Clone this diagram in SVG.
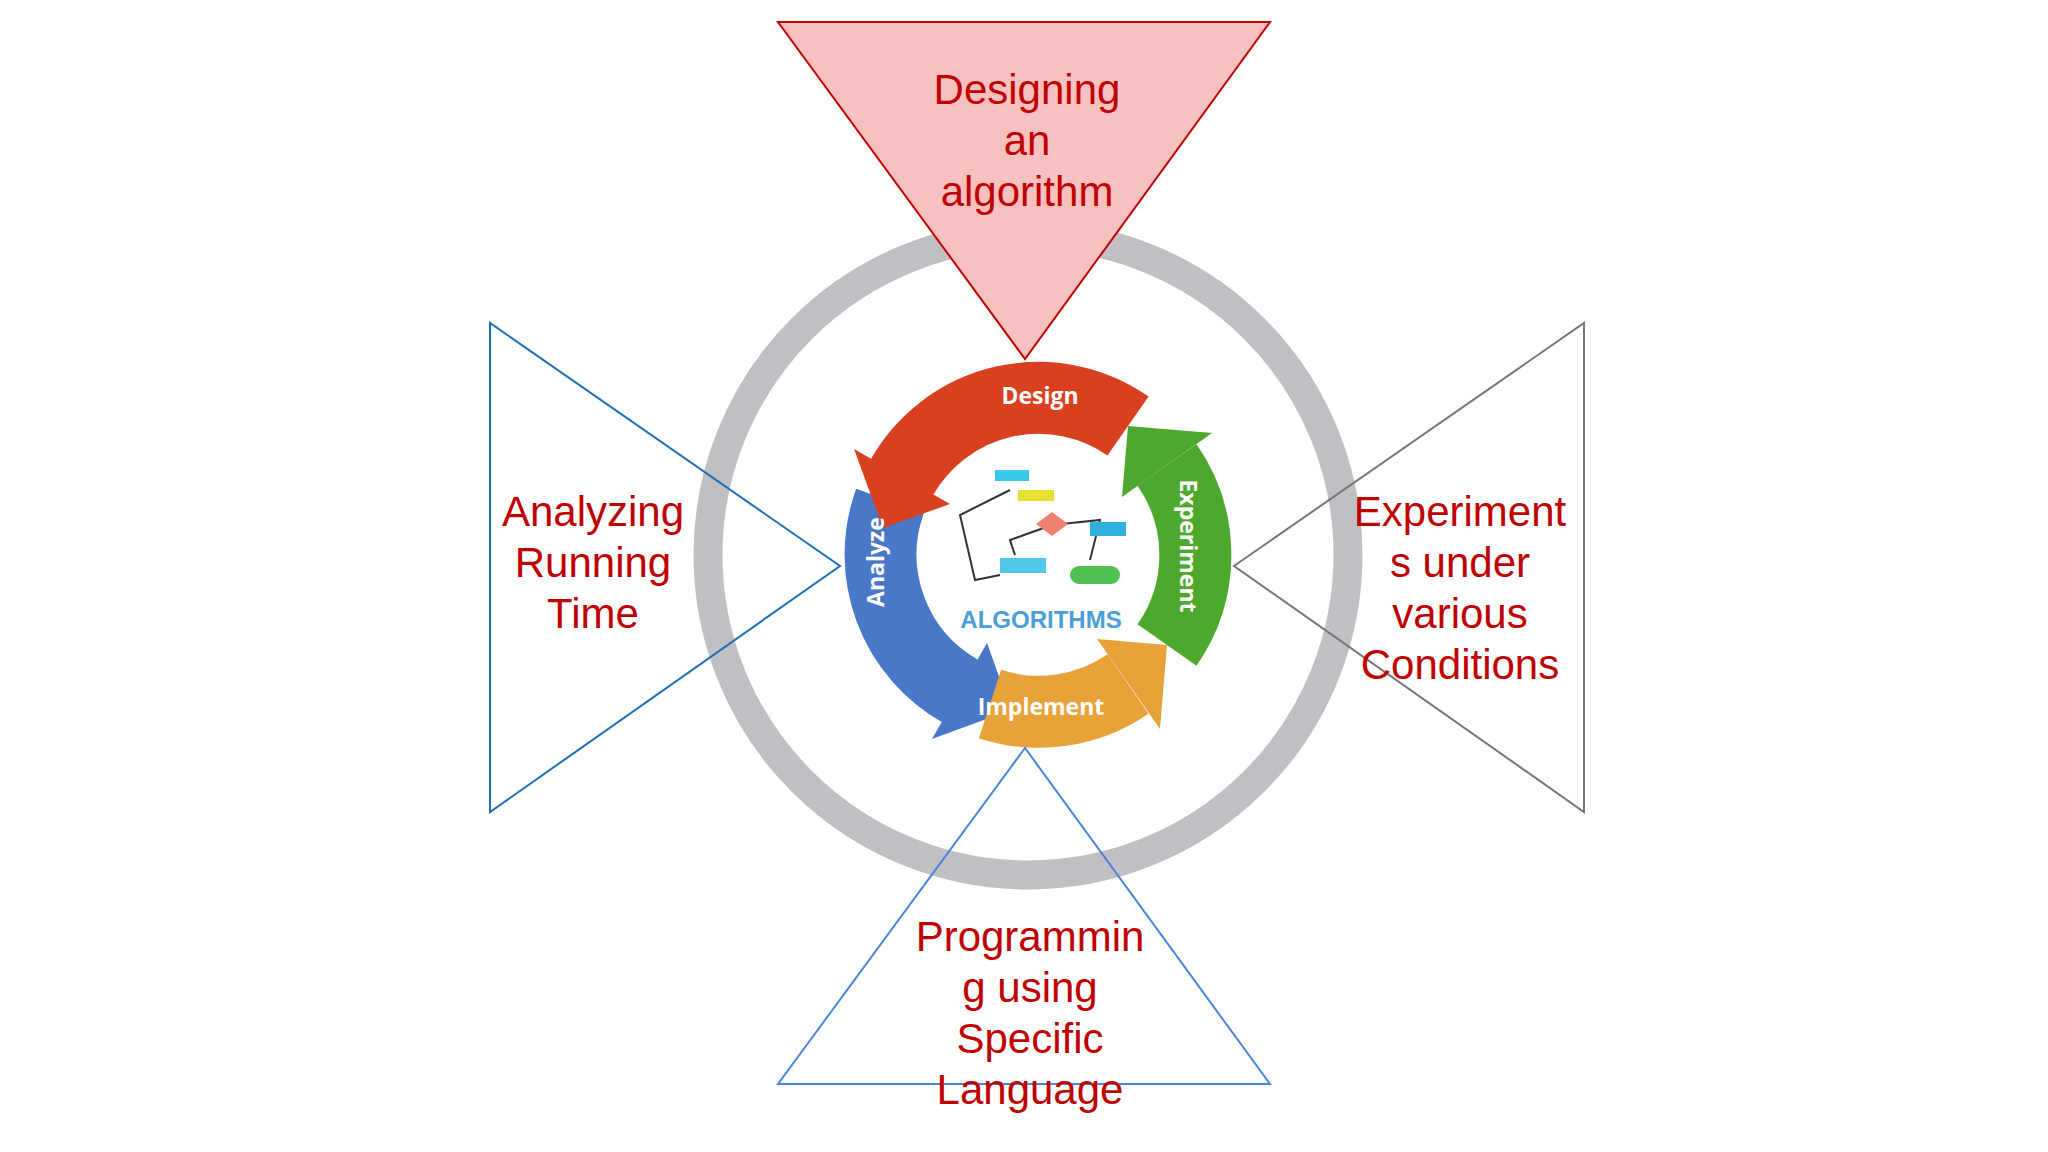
<svg xmlns="http://www.w3.org/2000/svg" width="2048" height="1152" viewBox="0 0 2048 1152">
<style>
.lbl{font-family:"Liberation Sans",Arial,sans-serif;font-size:42px;fill:#c00000;text-anchor:middle}
.cyc{font-family:"Open Sans","Liberation Sans",sans-serif;font-size:23px;font-weight:bold;fill:#fff;text-anchor:middle}
.band{fill:none;stroke-width:72}
</style>
<rect width="2048" height="1152" fill="#fff"/>
<g id="ring"><circle cx="1028" cy="555" r="320" fill="none" stroke="#c0bfc4" stroke-width="29"/></g>
<g id="cycle">
<path class="band" stroke="#4a78c8" d="M890,501 A157,157 0 0 0 960,691"/>
<polygon fill="#4a78c8" points="987,643 932,739 1011,710"/>
<path class="band" stroke="#d9401f" d="M1128,426 A157,157 0 0 0 902,477"/>
<polygon fill="#d9401f" points="950,504 854,449 883,528"/>
<path class="band" stroke="#e8a23a" d="M990,704 A157,157 0 0 0 1128,684"/>
<polygon fill="#e8a23a" points="1097,639 1160,729 1167,645"/>
<path class="band" stroke="#4ea82e" d="M1167,645 A157,157 0 0 0 1167,465"/>
<polygon fill="#4ea82e" points="1122,497 1212,433 1128,426"/>
<text class="cyc" x="1040" y="404">Design</text>
<text class="cyc" x="1041" y="715">Implement</text>
<text class="cyc" transform="translate(884,562) rotate(-90)">Analyze</text>
<text class="cyc" transform="translate(1180,546) rotate(90)">Experiment</text>
<g stroke="#333" stroke-width="2" fill="none"><path d="M1010,490 L960,515 L975,580 L1000,575 M1052,525 L1100,520 L1090,560 M1052,525 L1010,540 L1015,555"/></g>
<rect x="995" y="470" width="34" height="11" fill="#3cc8e8"/>
<rect x="1018" y="490" width="36" height="11" fill="#e8e030"/>
<polygon points="1052,512 1068,524 1052,536 1036,524" fill="#f08070"/>
<rect x="1090" y="522" width="36" height="14" fill="#30b0e0"/>
<rect x="1000" y="558" width="46" height="15" fill="#50c8e8"/>
<rect x="1070" y="566" width="50" height="18" rx="9" fill="#50c050"/>
<text x="1041" y="628" font-family="Liberation Sans,sans-serif" font-size="24" font-weight="bold" fill="#4a9fd8" text-anchor="middle">ALGORITHMS</text>
</g>
<g id="top"><polygon points="778,22 1270,22 1025,359" fill="#f9c0c0" stroke="#c00000" stroke-width="2"/>
<text class="lbl"><tspan x="1027" y="104">Designing</tspan><tspan x="1027" y="155">an</tspan><tspan x="1027" y="206">algorithm</tspan></text></g>
<g id="left"><polygon points="490,323 490,812 840,566" fill="none" stroke="#1f6fb5" stroke-width="2"/>
<text class="lbl"><tspan x="593" y="526">Analyzing</tspan><tspan x="593" y="577">Running</tspan><tspan x="593" y="628">Time</tspan></text></g>
<g id="right"><polygon points="1584,323 1584,812 1234,566" fill="none" stroke="#777" stroke-width="2"/>
<text class="lbl"><tspan x="1460" y="526">Experiment</tspan><tspan x="1460" y="577">s under</tspan><tspan x="1460" y="628">various</tspan><tspan x="1460" y="679">Conditions</tspan></text></g>
<g id="bottom"><polygon points="1025,748 778,1084 1270,1084" fill="none" stroke="#4a86d8" stroke-width="2"/>
<text class="lbl"><tspan x="1030" y="951">Programmin</tspan><tspan x="1030" y="1002">g using</tspan><tspan x="1030" y="1053">Specific</tspan><tspan x="1030" y="1104">Language</tspan></text></g>
</svg>
